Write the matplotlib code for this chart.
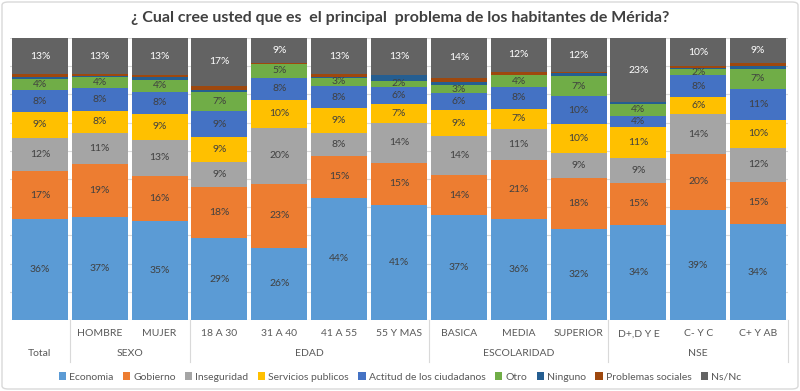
import matplotlib
matplotlib.use("Agg")
import matplotlib.pyplot as plt
import matplotlib.transforms as mtransforms
from matplotlib.patches import FancyBboxPatch
import numpy as np

plt.rcParams['font.family'] = ['Lato', 'DejaVu Sans']

categories = ["Total", "HOMBRE", "MUJER", "18 A 30", "31 A 40", "41 A 55", "55 Y MAS",
              "BASICA", "MEDIA", "SUPERIOR", "D+,D Y E", "C- Y C", "C+ Y AB"]
cat_labels = ["", "HOMBRE", "MUJER", "18 A 30", "31 A 40", "41 A 55", "55 Y MAS",
              "BASICA", "MEDIA", "SUPERIOR", "D+,D Y E", "C- Y C", "C+ Y AB"]
groups = [("Total", 0, 0), ("SEXO", 1, 2), ("EDAD", 3, 6), ("ESCOLARIDAD", 7, 9), ("NSE", 10, 12)]

series_names = ["Economia", "Gobierno", "Inseguridad", "Servicios publicos",
                "Actitud de los ciudadanos", "Otro", "Ninguno", "Problemas sociales", "Ns/Nc"]

economia = [36, 37, 35, 29, 26, 44, 41, 37, 36, 32, 34, 39, 34]
gobierno = [17, 19, 16, 18, 23, 15, 15, 14, 21, 18, 15, 20, 15]
inseguridad = [12, 11, 13, 9, 20, 8, 14, 14, 11, 9, 9, 14, 12]
servicios = [9, 8, 9, 9, 10, 9, 7, 9, 7, 10, 11, 6, 10]
actitud = [8, 8, 8, 9, 8, 8, 6, 6, 8, 10, 4, 8, 11]
otro = [4, 4, 4, 7, 5, 3, 2, 3, 4, 7, 4, 2, 7]
ninguno = [0.5, 0.5, 1, 0.5, 0, 0.3, 2, 1, 0.3, 1, 0.7, 0.3, 1]
problemas = [1, 0.5, 1, 1.5, 0.3, 1, 0.3, 1.5, 1, 0.5, 0, 0.8, 1]
nsnc = [13, 13, 13, 17, 9, 13, 13, 14, 12, 12, 23, 10, 9]

series = [economia, gobierno, inseguridad, servicios, actitud, otro, ninguno, problemas, nsnc]
colors = ["#5B9BD5", "#ED7D31", "#A5A5A5", "#FFC000", "#4472C4", "#70AD47",
          "#255E91", "#9E480E", "#636363"]
label_series = [0, 1, 2, 3, 4, 5, 8]

fig = plt.figure(figsize=(8, 3.91), dpi=100)
ax = fig.add_axes([10/800, 1-320/391, 778/800, 282/391])

data = np.array(series, dtype=float)
totals = data.sum(axis=0)
pct = data / totals * 100
x = np.arange(len(categories))
bottom = np.zeros(len(categories))
for i, (name, col) in enumerate(zip(series_names, colors)):
    ax.bar(x, pct[i], 0.935, bottom=bottom, color=col, label=name, zorder=2)
    if i in label_series:
        for j in range(len(x)):
            v = series[i][j]
            if v > 0:
                tc = "white" if i == 8 else "#404040"
                ax.text(x[j], bottom[j] + pct[i][j] / 2, f"{int(round(v))}%",
                        ha="center", va="center", fontsize=7.5, color=tc, zorder=3)
    bottom += pct[i]

ax.set_xlim(-0.5, len(categories) - 0.5)
ax.set_ylim(0, 100)
ax.set_yticks(np.arange(0, 101, 10))
ax.yaxis.grid(True, color="#D9D9D9", linewidth=0.8, zorder=0)
ax.set_axisbelow(True)
ax.tick_params(left=False, labelleft=False, bottom=False, labelbottom=False)
for s in ax.spines.values():
    s.set_visible(False)

trans = mtransforms.blended_transform_factory(ax.transData, fig.transFigure)
for j, lab in enumerate(cat_labels):
    if lab:
        ax.text(x[j], 1-334/391, lab, transform=trans, ha="center", va="center",
                fontsize=7.5, color="#595959")
for name, a, b in groups:
    ax.text((a + b) / 2, 1-353/391, name, transform=trans, ha="center", va="center",
            fontsize=7.5, color="#595959")
for bnd in [0.5, 2.5, 6.5, 9.5, 12.5]:
    ax.plot([bnd, bnd], [1-320/391, 1-362/391], transform=trans, color="#D9D9D9",
            linewidth=0.8, clip_on=False)

fig.text(0.5, 1-18/391, "¿ Cual cree usted que es  el principal  problema de los habitantes de Mérida?",
         ha="center", va="center", fontsize=11.5, fontweight="bold", color="#404040")

handles, labels = ax.get_legend_handles_labels()
fig.legend(handles, labels, loc="center", bbox_to_anchor=(0.5, 1-377/391), ncol=9,
           frameon=False, fontsize=7.5, handlelength=0.7, handleheight=0.7,
           handletextpad=0.3, columnspacing=0.9, labelcolor="#595959")

border = FancyBboxPatch((2/800, 2/391), 796/800, 387/391, boxstyle="round,pad=0,rounding_size=0.008",
                        transform=fig.transFigure, fill=False, edgecolor="#D9D9D9", linewidth=1)
fig.patches.append(border)

fig.savefig("out.png", dpi=100, facecolor="white")
